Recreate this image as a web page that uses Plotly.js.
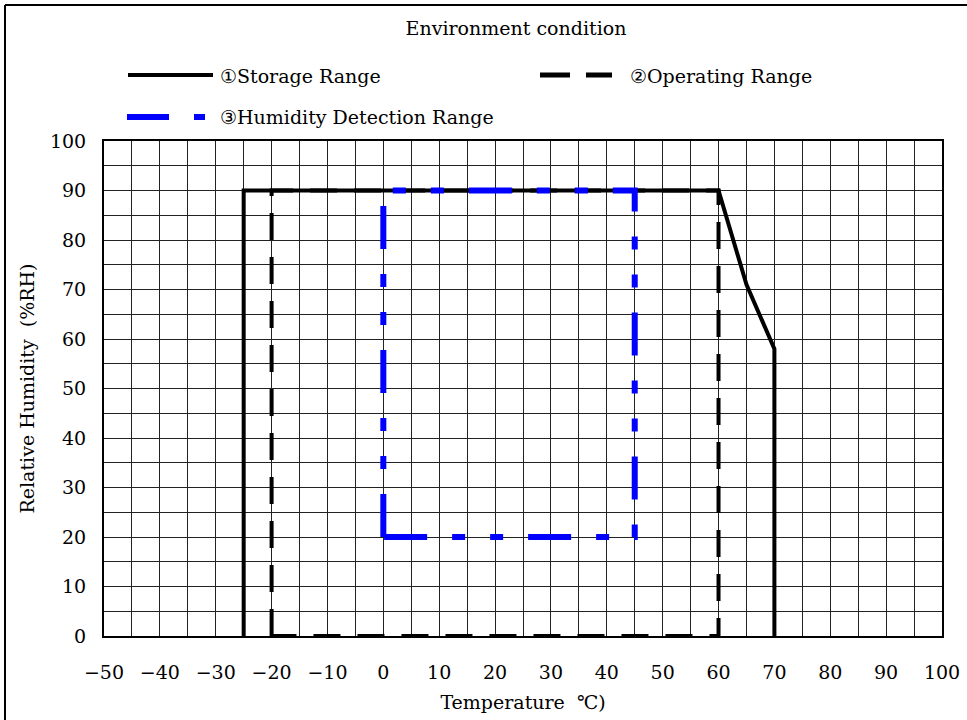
<!DOCTYPE html>
<html>
<head>
<meta charset="utf-8">
<script src="https://cdn.plot.ly/plotly-3.0.1.min.js"></script>
<style>
html,body{margin:0;padding:0;background:#fff;}
#chart{width:967px;height:720px;}
</style>
</head>
<body>
<div id="chart"></div>
<script>
// ---- data ----
const storageTemp = [-25, -25, 60, 65, 70, 70];
const storageRH   = [0, 90, 90, 71, 58, 0];
const operatingTemp = [-20, -20, 60, 60, -20];
const operatingRH   = [0, 90, 90, 0, 0];
const humidityTemp = [0, 0, 45, 45, 0];
const humidityRH   = [20, 90, 90, 20, 20];
const seriesNames = ["①Storage Range", "②Operating Range", "③Humidity Detection Range"];
const xTicks = [-50, -40, -30, -20, -10, 0, 10, 20, 30, 40, 50, 60, 70, 80, 90, 100];
const yTicks = [0, 10, 20, 30, 40, 50, 60, 70, 80, 90, 100];

const FONT = "'DejaVu Serif', 'Liberation Serif', serif";
const blueDash = "43px,25px,13px,25px,13px,25px";
const blackDash = "27px,17px";

const traces = [
  {x: storageTemp, y: storageRH, mode: "lines", name: seriesNames[0],
   line: {color: "#000", width: 4}, showlegend: false},
  {x: operatingTemp, y: operatingRH, mode: "lines", name: seriesNames[1],
   line: {color: "#000", width: 4, dash: blackDash}, showlegend: false},
  {x: humidityTemp, y: humidityRH, mode: "lines", name: seriesNames[2],
   line: {color: "#0000ff", width: 6, dash: blueDash}, showlegend: false}
];

// legend drawn in paper coordinates (layout only)
const W = 967, H = 720, L = 104, R = 25, T = 141, B = 84;
const pw = W - L - R, ph = H - T - B;
const px = v => (v - L) / pw;
const py = v => (H - B - v) / ph;

const shapes = [
  // outer frame of the figure (left and top edges visible)
  {type: "line", xref: "paper", yref: "paper", x0: px(5), x1: px(1000), y0: py(5), y1: py(5),
   line: {color: "#000", width: 2}},
  {type: "line", xref: "paper", yref: "paper", x0: px(5), x1: px(5), y0: py(5), y1: py(760),
   line: {color: "#000", width: 2}},
  // legend samples
  {type: "line", xref: "paper", yref: "paper", x0: px(128), x1: px(213), y0: py(75), y1: py(75),
   line: {color: "#000", width: 4}},
  {type: "line", xref: "paper", yref: "paper", x0: px(540), x1: px(612), y0: py(75), y1: py(75),
   line: {color: "#000", width: 5, dash: "30px,16px"}},
  {type: "line", xref: "paper", yref: "paper", x0: px(127), x1: px(205), y0: py(117), y1: py(117),
   line: {color: "#0000ff", width: 6, dash: "42px,25px,13px,25px"}}
];

const annotations = [
  {xref: "paper", yref: "paper", x: px(218), y: py(76), xanchor: "left", yanchor: "middle",
   text: seriesNames[0], showarrow: false, font: {family: FONT, size: 19, color: "#000"}},
  {xref: "paper", yref: "paper", x: px(628), y: py(76), xanchor: "left", yanchor: "middle",
   text: seriesNames[1], showarrow: false, font: {family: FONT, size: 19, color: "#000"}},
  {xref: "paper", yref: "paper", x: px(218), y: py(117), xanchor: "left", yanchor: "middle",
   text: seriesNames[2], showarrow: false, font: {family: FONT, size: 19, color: "#000"}}
];

const layout = {
  width: W, height: H,
  margin: {l: L, r: R, t: T, b: B},
  paper_bgcolor: "#fff", plot_bgcolor: "#fff",
  showlegend: false,
  title: {text: "Environment condition", xref: "container", yref: "container",
          x: 516 / W, xanchor: "center", y: 1 - 28 / H, yanchor: "middle",
          font: {family: FONT, size: 19, color: "#000"}},
  font: {family: FONT, size: 19, color: "#000"},
  xaxis: {
    range: [-50, 100], tickvals: xTicks, ticktext: xTicks.map(v => v < 0 ? "\u2212" + Math.abs(v) : String(v)),
    showgrid: true, gridcolor: "#222", gridwidth: 1,
    minor: {dtick: 5, tick0: 0, showgrid: true, gridcolor: "#222", gridwidth: 1},
    zeroline: false, showline: true, linecolor: "#000", linewidth: 2, mirror: true,
    ticks: "", ticklabelstandoff: 18,
    tickfont: {family: FONT, size: 19, color: "#000"},
    title: {text: "Temperature  ℃)", standoff: 14, font: {family: FONT, size: 19, color: "#000"}},
    automargin: false, fixedrange: true
  },
  yaxis: {
    range: [0, 100], tickvals: yTicks,
    showgrid: true, gridcolor: "#222", gridwidth: 1,
    minor: {dtick: 5, tick0: 0, showgrid: true, gridcolor: "#222", gridwidth: 1},
    zeroline: false, showline: true, linecolor: "#000", linewidth: 2, mirror: true,
    ticks: "", ticklabelstandoff: 12,
    tickfont: {family: FONT, size: 19, color: "#000"},
    title: {text: "Relative Humidity  (%RH)", standoff: 10, font: {family: FONT, size: 19, color: "#000"}},
    automargin: false, fixedrange: true
  },
  shapes: shapes,
  annotations: annotations
};

Plotly.newPlot("chart", traces, layout, {displayModeBar: false, staticPlot: true});
</script>
</body>
</html>
